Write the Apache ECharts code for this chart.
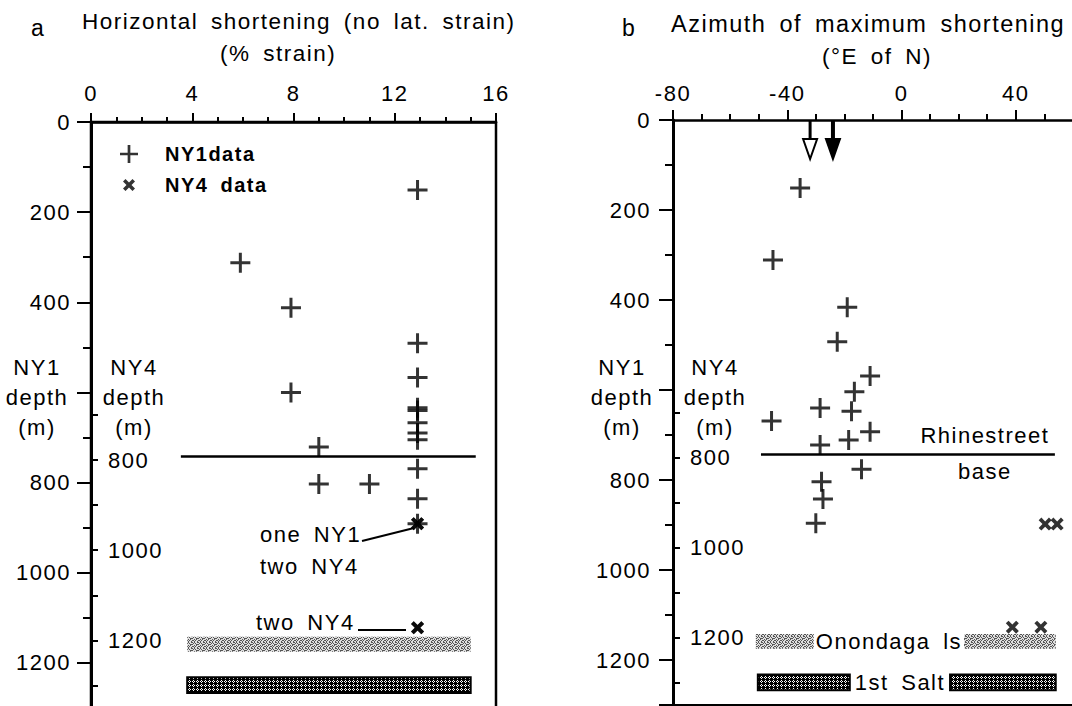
<!DOCTYPE html>
<html>
<head>
<meta charset="utf-8">
<script src="https://cdn.jsdelivr.net/npm/echarts@6.0.0/dist/echarts.min.js"></script>
<style>
html,body{margin:0;padding:0;background:#fff;}
#chart{width:1072px;height:706px;overflow:hidden;}
#chart text{letter-spacing:1.5px;word-spacing:5px;}
</style>
</head>
<body>
<div id="chart"></div>
<script>
// ---------------- DATA ----------------
// Panel a: horizontal shortening (% strain) against depth (m)
const ny1StrainPct   = [12.9, 5.9, 7.9, 12.9, 12.9, 7.9, 12.9, 12.9, 12.9, 12.9, 12.9, 9.0, 12.9, 9.0, 11.0, 12.9, 12.9];
const ny1StrainDepth = [151, 312, 412, 491, 567, 600, 634, 640, 667, 690, 705, 721, 769, 803, 803, 836, 891];
const ny4StrainPct   = [12.9, 12.9, 12.9, 12.9];
const ny4StrainDepth = [941, 941, 1172, 1172];          // NY4 depth scale
// Panel b: azimuth of maximum shortening (deg E of N) against depth (m)
const ny1Azimuth      = [-35.5, -45, -19, -22.5, -11, -16.5, -28.5, -17.5, -45.5, -11, -18.5, -28.5, -14, -28, -27.5, -30];
const ny1AzimuthDepth = [151, 311, 416, 493, 569, 604, 640, 647, 669, 693, 711, 722, 776, 804, 842, 896];
const ny4Azimuth      = [50.3, 54.5, 38.8, 48.8];
const ny4AzimuthDepth = [948, 948, 1177, 1177];         // NY4 depth scale
const meanAzimuth     = [-32, -24];                      // open arrow, filled arrow
// Reference horizons (NY1 depth, m)
const rhinestreetBaseDepth = 742;
const formationNames = ['Onondaga ls', '1st Salt'];
const formationTop   = [1142, 1232];
const formationBase  = [1175, 1267];
// Tick labels
const strainTickLabels  = [0, 4, 8, 12, 16];
const azimuthTickLabels = [-80, -40, 0, 40];
const depthTickLabels   = [0, 200, 400, 800, 1000, 1200];
const ny4TickLabels     = [800, 1000, 1200];
const ny4TickValues     = [700, 800, 900, 1000, 1100, 1200, 1300];

// ---------------- STYLE HELPERS ----------------
const FONT = '"Liberation Sans", Arial, Helvetica, sans-serif';
function txt(size, extra) {
  return Object.assign({fontFamily: FONT, fontSize: size, color: '#000', fontWeight: 'normal'}, extra || {});
}
function plain(v) { return String(v); }
const PLUS = 'path://M8.5,0H11.5V8.5H20V11.5H11.5V20H8.5V11.5H0V8.5H8.5Z';
const CROSS = 'path://M0,2.5L2.5,0L6,3.5L9.5,0L12,2.5L8.5,6L12,9.5L9.5,12L6,8.5L2.5,12L0,9.5L3.5,6Z';
const CROSS_LEGEND = 'path://M-3,-3M15,15M0,2.5L2.5,0L6,3.5L9.5,0L12,2.5L8.5,6L12,9.5L9.5,12L6,8.5L2.5,12L0,9.5L3.5,6Z';

function makePattern(rows, fg, bg) {
  const c = document.createElement('canvas');
  c.width = rows[0].length; c.height = rows.length;
  const ctx = c.getContext('2d');
  ctx.fillStyle = bg; ctx.fillRect(0, 0, c.width, c.height);
  ctx.fillStyle = fg;
  rows.forEach(function (r, y) {
    for (let x = 0; x < r.length; x++) if (r[x] === '1') ctx.fillRect(x, y, 1, 1);
  });
  return {image: c.toDataURL(), imageWidth: c.width, imageHeight: c.height, repeat: 'repeat'};
}
const limePattern = makePattern(['101001', '010100', '100011', '001010', '110100', '001001'], '#555', '#dedede');
const saltPattern = makePattern(['0100', '1010', '0100', '0000'], '#fff', '#000');

function zip(a, b) { return a.map(function (v, i) { return [v, b[i]]; }); }

const axisLineStyle = {color: '#000', width: 2.5};
const tickLine = {color: '#000', width: 2};
const FS = 22;

function depthAxis(grid, max, labelMargin) {
  return {
    gridIndex: grid, type: 'value', inverse: true, position: 'left', min: 0, max: max, interval: 200,
    axisLine: {show: true, onZero: false, lineStyle: {color: '#000', width: 3}},
    axisTick: {show: true, inside: false, length: 14, lineStyle: tickLine},
    minorTick: {show: true, splitNumber: 2, length: 8, lineStyle: tickLine},
    axisLabel: Object.assign({margin: labelMargin, customValues: depthTickLabels, formatter: plain}, txt(FS)),
    splitLine: {show: false}, minorSplitLine: {show: false}
  };
}
function ny4Axis(grid) {
  return {
    gridIndex: grid, type: 'value', inverse: true, position: 'left', min: 50, max: 1350,
    axisLine: {show: false, onZero: false},
    axisTick: {show: true, inside: true, length: 7, customValues: ny4TickValues, lineStyle: tickLine},
    axisLabel: Object.assign({inside: true, margin: 17, customValues: ny4TickLabels, formatter: plain}, txt(FS)),
    splitLine: {show: false}
  };
}
function axisTitle(text, cx, cy) {
  return {type: 'text', x: cx, y: cy, silent: true,
    style: {text: text, font: FS + 'px ' + FONT, fill: '#000', lineHeight: 30,
            textAlign: 'center', textVerticalAlign: 'middle', align: 'center', verticalAlign: 'middle'}};
}
function note(text, left, cy) {
  return {type: 'text', x: left, y: cy, silent: true,
    style: {text: text, font: FS + 'px ' + FONT, fill: '#000',
            textAlign: 'left', textVerticalAlign: 'middle', align: 'left', verticalAlign: 'middle'}};
}

const option = {
  animation: false,
  backgroundColor: '#fff',
  textStyle: {fontFamily: FONT},
  title: [
    {text: 'a', left: 31, top: 16, padding: 0, textStyle: txt(23)},
    {text: 'Horizontal shortening (no lat. strain)', left: 82, top: 10, padding: 0, textStyle: txt(22.5)},
    {text: '(% strain)', left: 220, top: 42, padding: 0, textStyle: txt(22.5)},
    {text: 'b', left: 622, top: 16, padding: 0, textStyle: txt(23)},
    {text: 'Azimuth of maximum shortening', left: 671, top: 12, padding: 0, textStyle: txt(23.5)},
    {text: '(°E of N)', left: 822, top: 45, padding: 0, textStyle: txt(22.5)}
  ],
  legend: {
    left: 120, top: 144, orient: 'vertical', itemWidth: 18, itemHeight: 18, itemGap: 11,
    selectedMode: false, padding: 0,
    textStyle: txt(20, {fontWeight: 'bold', padding: [0, 0, 0, 22]}),
    data: [{name: 'NY1data', icon: PLUS}, {name: 'NY4 data', icon: CROSS_LEGEND}]
  },
  grid: [
    {left: 91, top: 122, width: 405, height: 586, show: true, borderColor: '#000', borderWidth: 2.5,
     backgroundColor: 'transparent', containLabel: false, outerBoundsMode: 'none'},
    {left: 673, top: 120, width: 457, height: 585, show: false, containLabel: false, outerBoundsMode: 'none'}
  ],
  xAxis: [
    {gridIndex: 0, type: 'value', position: 'top', min: 0, max: 16, interval: 4,
     axisLine: {show: true, onZero: false, lineStyle: axisLineStyle},
     axisTick: {show: true, inside: false, length: 9, lineStyle: tickLine},
     minorTick: {show: true, splitNumber: 4, length: 5, lineStyle: tickLine},
     axisLabel: Object.assign({margin: 18, customValues: strainTickLabels, formatter: plain}, txt(FS)),
     splitLine: {show: false}, minorSplitLine: {show: false}},
    {gridIndex: 1, type: 'value', position: 'top', min: -80, max: 80, interval: 40,
     axisLine: {show: true, onZero: false, lineStyle: axisLineStyle},
     axisTick: {show: true, inside: false, length: 10, lineStyle: tickLine},
     minorTick: {show: true, splitNumber: 4, length: 6, lineStyle: tickLine},
     axisLabel: Object.assign({margin: 16, customValues: azimuthTickLabels, formatter: plain}, txt(FS)),
     splitLine: {show: false}, minorSplitLine: {show: false}},
    {gridIndex: 1, type: 'value', position: 'bottom', min: -80, max: 80,
     axisLine: {show: true, onZero: false, lineStyle: {color: '#000', width: 2}},
     axisTick: {show: false}, axisLabel: {show: false}, splitLine: {show: false}}
  ],
  yAxis: [
    depthAxis(0, 1300, 20),
    ny4Axis(0),
    depthAxis(1, 1300, 22),
    ny4Axis(1)
  ],
  series: [
    {
      name: 'NY1data', type: 'scatter', xAxisIndex: 0, yAxisIndex: 0,
      data: zip(ny1StrainPct, ny1StrainDepth),
      symbol: PLUS, symbolSize: 20, itemStyle: {color: '#000'}, silent: true, z: 4,
      emphasis: {disabled: true},
      markLine: {
        silent: true, symbol: ['none', 'none'], animation: false,
        lineStyle: {color: '#000', width: 2.5, type: 'solid'}, label: {show: false},
        emphasis: {disabled: true},
        data: [[{coord: [3.55, rhinestreetBaseDepth]}, {coord: [15.2, rhinestreetBaseDepth]}]]
      },
      markArea: {
        silent: true, label: {show: false}, emphasis: {disabled: true},
        data: [
          [{xAxis: 3.8, yAxis: formationTop[0], itemStyle: {color: limePattern}}, {xAxis: 15.0, yAxis: formationBase[0]}],
          [{xAxis: 3.8, yAxis: formationTop[1], itemStyle: {color: saltPattern, borderColor: '#000', borderWidth: 2}}, {xAxis: 15.0, yAxis: formationBase[1]}]
        ]
      }
    },
    {
      name: 'NY4 data', type: 'scatter', xAxisIndex: 0, yAxisIndex: 1,
      data: zip(ny4StrainPct, ny4StrainDepth),
      symbol: CROSS, symbolSize: 13, itemStyle: {color: '#000'}, silent: true, z: 5,
      emphasis: {disabled: true}
    },
    {
      name: 'NY1data', type: 'scatter', xAxisIndex: 1, yAxisIndex: 2,
      data: zip(ny1Azimuth, ny1AzimuthDepth),
      symbol: PLUS, symbolSize: 20, itemStyle: {color: '#000'}, silent: true, z: 4,
      emphasis: {disabled: true},
      markLine: {
        silent: true, symbol: ['none', 'none'], animation: false,
        lineStyle: {color: '#000', width: 2.5, type: 'solid'},
        emphasis: {disabled: true},
        label: Object.assign({show: true, position: 'insideEnd', distance: [70, 0], align: 'center',
          formatter: 'Rhinestreet\n\nbase', lineHeight: 18}, txt(FS)),
        data: [[{coord: [-49.2, rhinestreetBaseDepth]}, {coord: [53.7, rhinestreetBaseDepth]}]]
      },
      markArea: {
        silent: true, emphasis: {disabled: true},
        label: Object.assign({show: false}, txt(FS)),
        data: [
          [{xAxis: -51, yAxis: formationTop[0], itemStyle: {color: limePattern}}, {xAxis: -30.7, yAxis: formationBase[0]}],
          [{xAxis: -30.7, yAxis: formationTop[0], itemStyle: {color: 'rgba(0,0,0,0)'},
            label: Object.assign({show: true, position: 'inside', formatter: formationNames[0]}, txt(FS))},
           {xAxis: 21.9, yAxis: formationBase[0]}],
          [{xAxis: 21.9, yAxis: formationTop[0], itemStyle: {color: limePattern}}, {xAxis: 54, yAxis: formationBase[0]}],
          [{xAxis: -50.3, yAxis: formationTop[1], itemStyle: {color: saltPattern, borderColor: '#000', borderWidth: 2}}, {xAxis: -18.1, yAxis: formationBase[1]}],
          [{xAxis: -18.1, yAxis: formationTop[1], itemStyle: {color: 'rgba(0,0,0,0)'},
            label: Object.assign({show: true, position: 'inside', formatter: formationNames[1]}, txt(FS))},
           {xAxis: 17, yAxis: formationBase[1]}],
          [{xAxis: 17, yAxis: formationTop[1], itemStyle: {color: saltPattern, borderColor: '#000', borderWidth: 2}}, {xAxis: 54, yAxis: formationBase[1]}]
        ]
      }
    },
    {
      name: 'NY4 data', type: 'scatter', xAxisIndex: 1, yAxisIndex: 3,
      data: zip(ny4Azimuth, ny4AzimuthDepth),
      symbol: CROSS, symbolSize: 13, itemStyle: {color: '#000'}, silent: true, z: 5,
      emphasis: {disabled: true}
    },
    {
      name: 'mean azimuth', type: 'custom', xAxisIndex: 1, yAxisIndex: 2, silent: true, z: 6, clip: false,
      data: meanAzimuth.map(function (a, i) { return [a, i]; }),
      renderItem: function (params, api) {
        const p = api.coord([api.value(0), 0]);
        const filled = api.value(1) === 1;
        const x = p[0], y = p[1];
        return {
          type: 'group',
          children: [
            {type: 'line', shape: {x1: x, y1: y, x2: x, y2: y + 20},
             style: {stroke: '#000', lineWidth: filled ? 4 : 3}},
            {type: 'polygon', shape: {points: [[x - 7, y + 19], [x + 7, y + 19], [x, y + 39]]},
             style: {fill: filled ? '#000' : '#fff', stroke: '#000', lineWidth: 2}}
          ]
        };
      }
    }
  ],
  graphic: [
    axisTitle('NY1\ndepth\n(m)', 37, 397),
    axisTitle('NY4\ndepth\n(m)', 134, 397),
    axisTitle('NY1\ndepth\n(m)', 622, 397),
    axisTitle('NY4\ndepth\n(m)', 715, 397),
    note('one NY1', 260, 534),
    note('two NY4', 260, 566),
    {type: 'line', silent: true, shape: {x1: 362, y1: 541, x2: 414, y2: 528}, style: {stroke: '#000', lineWidth: 2}},
    note('two NY4', 256, 622),
    {type: 'line', silent: true, shape: {x1: 358, y1: 630, x2: 406, y2: 630}, style: {stroke: '#000', lineWidth: 2}}
  ]
};

const chart = echarts.init(document.getElementById('chart'), null, {renderer: 'svg', width: 1072, height: 706});
chart.setOption(option);
</script>
</body>
</html>
